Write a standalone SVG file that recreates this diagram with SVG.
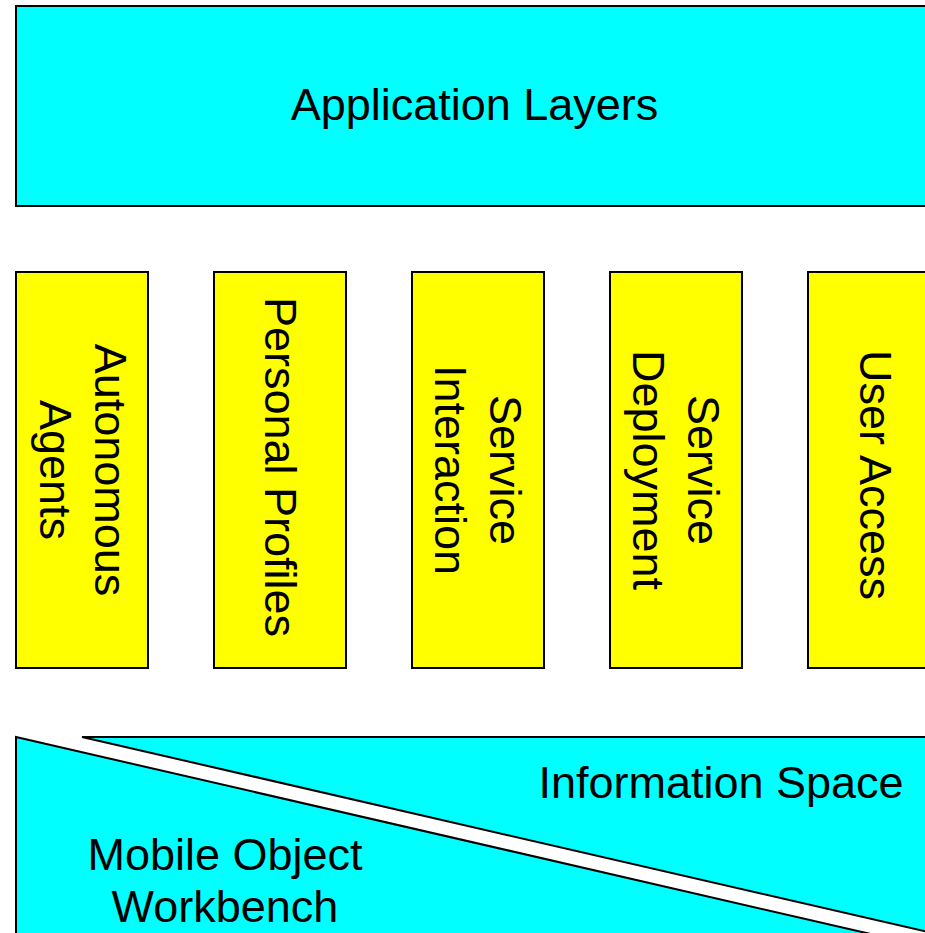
<svg xmlns="http://www.w3.org/2000/svg" width="925" height="933" viewBox="0 0 925 933">
  <style>
    .shape { stroke: #000; stroke-width: 2; }
    .cyan { fill: #00ffff; }
    .yellow { fill: #ffff00; }
    .label { font-family: "Liberation Sans", Arial, sans-serif; font-size: 45px; fill: #000; text-anchor: middle; }
  </style>
  <rect width="925" height="933" fill="#ffffff"/>

  <g id="application-layers">
    <rect class="shape cyan" x="16" y="6" width="1000" height="200"/>
    <text class="label" x="474.5" y="120">Application Layers</text>
  </g>

  <g id="autonomous-agents">
    <rect class="shape yellow" x="16" y="272" width="132" height="396"/>
    <text class="label" transform="translate(82,470) rotate(90)"><tspan x="0" y="-13">Autonomous</tspan><tspan x="0" y="42">Agents</tspan></text>
  </g>

  <g id="personal-profiles">
    <rect class="shape yellow" x="214" y="272" width="132" height="396"/>
    <text class="label" transform="translate(280,467) rotate(90)" x="0" y="15">Personal Profiles</text>
  </g>

  <g id="service-interaction">
    <rect class="shape yellow" x="412" y="272" width="132" height="396"/>
    <text class="label" transform="translate(478,470) rotate(90)"><tspan x="0" y="-12">Service</tspan><tspan x="0" y="43">Interaction</tspan></text>
  </g>

  <g id="service-deployment">
    <rect class="shape yellow" x="610" y="272" width="132" height="396"/>
    <text class="label" transform="translate(676,470) rotate(90)"><tspan x="0" y="-12">Service</tspan><tspan x="0" y="43">Deployment</tspan></text>
  </g>

  <g id="user-access">
    <rect class="shape yellow" x="808" y="272" width="132" height="396"/>
    <text class="label" transform="translate(874,475) rotate(90)" x="0" y="14">User Access</text>
  </g>

  <g id="information-space">
    <polygon class="shape cyan" points="82,737 1000,737 1000,948.6"/>
    <text class="label" x="721" y="798">Information Space</text>
  </g>

  <g id="mobile-object-workbench">
    <polygon class="shape cyan" points="16,737 1000,963.8 1000,1000 16,1000"/>
    <text class="label"><tspan x="225" y="870">Mobile Object</tspan><tspan x="225" y="922">Workbench</tspan></text>
  </g>

  <g id="connectors"></g>
</svg>
